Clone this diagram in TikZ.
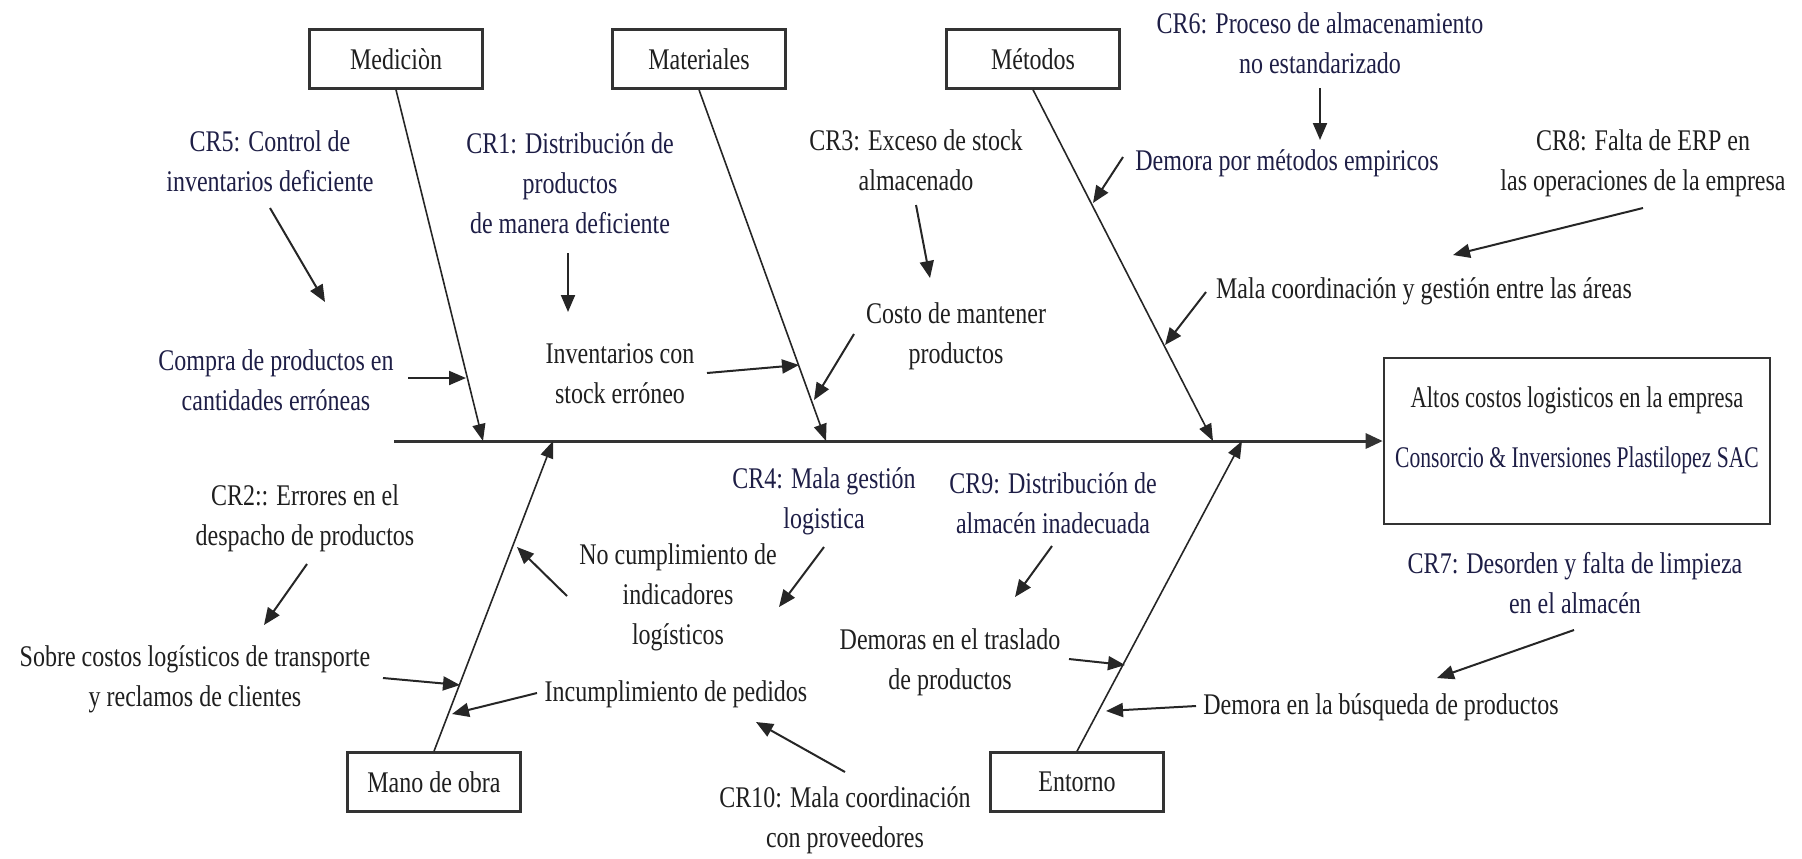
\documentclass[tikz,border=0pt]{standalone}
\usepackage{fontspec}
\setmainfont{Liberation Serif}[FakeStretch=0.8]
\usetikzlibrary{arrows.meta}
\definecolor{ink}{HTML}{1F1F1F}
\definecolor{inknavy}{HTML}{1E1E46}
\definecolor{frame}{HTML}{333333}
\begin{document}
\begin{tikzpicture}[x=0.5pt,y=-0.5pt,
  txt/.style={font=\fontsize{15pt}{20pt}\selectfont, text=ink, align=center, inner sep=0pt},
  navy/.style={txt, text=inknavy},
  catbox/.style={draw=frame, line width=1.3pt, fill=white, minimum width=86.5pt,
    minimum height=29.5pt, inner sep=0pt, font=\fontsize{15pt}{20pt}\selectfont, text=ink},
  effbox/.style={draw=frame, line width=1.3pt, minimum width=193pt, minimum height=83pt, inner sep=0pt},
  bone/.style={draw=black!85, line width=0.8pt, -{Triangle[length=8.5pt,width=6.5pt]}},
  spine/.style={draw=frame, line width=1.5pt, -{Triangle[length=8.5pt,width=7.5pt]}},
  cause/.style={draw=black!85, line width=1pt, -{Triangle[length=8.5pt,width=7pt]}}
]
\useasboundingbox (0,0) rectangle (1802,858);

% effect box and spine
\node[effbox] (effect) at (1577,441) {};
\node[txt] (eff1) at (1577,400) {\scalebox{0.94}[1]{Altos costos logisticos en la empresa}};
\node[navy] (eff2) at (1577,460) {\scalebox{0.9}[1]{Consorcio \& Inversiones Plastilopez SAC}};
\coordinate (tail) at (394,441);
\draw[spine] (tail) -- (effect.west);

% category boxes
\node[catbox] (med) at (396,59) {Medici\`on};
\node[catbox] (mat) at (699,59) {Materiales};
\node[catbox] (met) at (1033,59) {Métodos};
\node[catbox] (mano) at (434,782) {Mano de obra};
\node[catbox] (ent) at (1077,782) {Entorno};

% bones meeting the spine
\coordinate (medEnd) at (483,441);
\coordinate (matEnd) at (826,441);
\coordinate (metEnd) at (1213,441);
\coordinate (manoEnd) at (553,441);
\coordinate (entEnd) at (1242,441);
\draw[bone] (med.south) -- (medEnd);
\draw[bone] (mat.south) -- (matEnd);
\draw[bone] (met.south) -- (metEnd);
\draw[bone] (mano.north) -- (manoEnd);
\draw[bone] (ent.north) -- (entEnd);

% causes, upper half
\node[navy] (cr5) at (270,161) {CR5: Control de\\inventarios deficiente};
\node[navy] (compra) at (276,380) {Compra de productos en\\cantidades erróneas};
\node[navy] (cr1) at (570,183) {CR1: Distribución de\\productos\\de manera deficiente};
\node[txt] (inv) at (620,374) {Inventarios con\\stock erróneo};
\node[txt] (cr3) at (916,160) {CR3: Exceso de stock\\almacenado};
\node[txt] (costo) at (956,336) {Costo de mantener\\productos};
\node[navy] (cr6) at (1320,43) {CR6: Proceso de almacenamiento\\no estandarizado};
\node[navy] (demmet) at (1287,163) {Demora por métodos empiricos};
\node[txt] (cr8) at (1643,163) {CR8: Falta de ERP en\\las operaciones de la empresa};
\node[txt] (mala) at (1424,291) {Mala coordinación y gestión entre las áreas};

% causes, lower half
\node[txt] (cr2) at (305,518) {CR2:: Errores en el\\despacho de productos};
\node[txt] (sobre) at (195,679) {Sobre costos logísticos de transporte\\y reclamos de clientes};
\node[txt] (nocump) at (678,597) {No cumplimiento de\\indicadores\\logísticos};
\node[txt] (incump) at (676,694) {Incumplimiento de pedidos};
\node[navy] (cr4) at (824,501) {CR4: Mala gestión\\logistica};
\node[navy] (cr9) at (1053,503) {CR9: Distribución de\\almacén inadecuada};
\node[txt] (demoras) at (950,662) {Demoras en el traslado\\de productos};
\node[txt] (cr10) at (845,820) {CR10: Mala coordinación\\con proveedores};
\node[navy] (cr7) at (1575,583) {CR7: Desorden y falta de limpieza\\en el almacén};
\node[txt] (busq) at (1381,707) {Demora en la búsqueda de productos};

% arrow end points
\coordinate (a1) at (270,208);  \coordinate (b1) at (325,302);
\coordinate (a2) at (408,378);  \coordinate (b2) at (466,378);
\coordinate (a3) at (568,253);  \coordinate (b3) at (568,312);
\coordinate (a4) at (707,373);  \coordinate (b4) at (799,365);
\coordinate (a5) at (916,205);  \coordinate (b5) at (930,278);
\coordinate (a6) at (854,334);  \coordinate (b6) at (814,400);
\coordinate (a7) at (1320,88);  \coordinate (b7) at (1320,140);
\coordinate (a8) at (1123,157); \coordinate (b8) at (1093,203);
\coordinate (a9) at (1643,208); \coordinate (b9) at (1453,255);
\coordinate (a10) at (1206,292); \coordinate (b10) at (1165,345);
\coordinate (a11) at (307,564); \coordinate (b11) at (264,625);
\coordinate (a12) at (383,678); \coordinate (b12) at (460,685);
\coordinate (a13) at (567,596); \coordinate (b13) at (517,547);
\coordinate (a14) at (537,693); \coordinate (b14) at (452,714);
\coordinate (a15) at (824,547); \coordinate (b15) at (779,607);
\coordinate (a16) at (845,772); \coordinate (b16) at (756,722);
\coordinate (a17) at (1052,546); \coordinate (b17) at (1015,597);
\coordinate (a18) at (1069,659); \coordinate (b18) at (1125,665);
\coordinate (a19) at (1196,706); \coordinate (b19) at (1106,711);
\coordinate (a20) at (1574,630); \coordinate (b20) at (1437,678);

\foreach \i in {1,...,20} { \draw[cause] (a\i) -- (b\i); }
\end{tikzpicture}
\end{document}
